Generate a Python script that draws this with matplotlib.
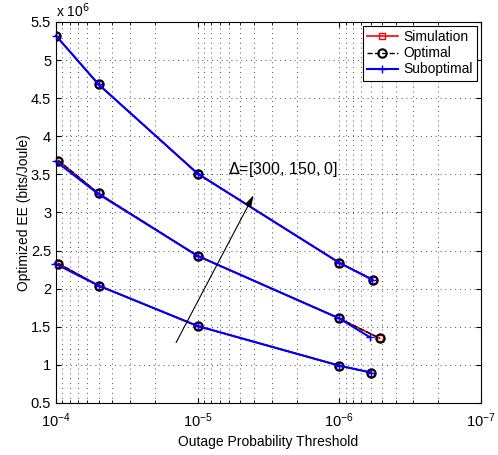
import matplotlib
matplotlib.use("Agg")
import matplotlib.pyplot as plt
import numpy as np

plt.rcParams['font.family'] = ['Liberation Sans', 'DejaVu Sans']

# outage probability thresholds (x) and optimized EE in 1e6 bits/Joule (y)
x_sim_top = [1.0e-4, 5e-5, 1e-5, 1e-6, 5.8e-7]
y_sim_top = [5.32, 4.68, 3.51, 2.34, 2.12]
x_sub_top = [1.0e-4, 5e-5, 1e-5, 1e-6, 5.9e-7]
y_sub_top = [5.32, 4.68, 3.51, 2.34, 2.12]

x_sim_mid = [0.96e-4, 5e-5, 1e-5, 1e-6, 5.2e-7]
y_sim_mid = [3.68, 3.25, 2.43, 1.61, 1.35]
x_sub_mid = [1.0e-4, 5e-5, 1e-5, 1e-6, 6.05e-7]
y_sub_mid = [3.67, 3.24, 2.43, 1.61, 1.36]

x_sim_bot = [0.96e-4, 5e-5, 1e-5, 1e-6, 6.0e-7]
y_sim_bot = [2.33, 2.04, 1.51, 0.99, 0.90]
x_sub_bot = [1.02e-4, 5e-5, 1e-5, 1e-6, 6.0e-7]
y_sub_bot = [2.33, 2.04, 1.51, 0.99, 0.90]

fig = plt.figure(figsize=(4.98, 4.55), dpi=100)
ax = fig.add_axes([0.1124, 0.1143, 0.8534, 0.8374])

sims = [(x_sim_top, y_sim_top), (x_sim_mid, y_sim_mid), (x_sim_bot, y_sim_bot)]
subs = [(x_sub_top, y_sub_top), (x_sub_mid, y_sub_mid), (x_sub_bot, y_sub_bot)]

for i, (xs, ys) in enumerate(sims):
    ax.plot(xs, ys, color='red', marker='s', mfc='none', ms=5, lw=1.2,
            label='Simulation' if i == 0 else None)
for i, (xs, ys) in enumerate(sims):
    ax.plot(xs, ys, color='black', ls='--', marker='o', mfc='none', ms=6, mew=1.5,
            lw=1.0, label='Optimal' if i == 0 else None)
for i, (xs, ys) in enumerate(subs):
    ax.plot(xs, ys, color='blue', marker='+', ms=6, lw=1.5, clip_on=False,
            label='Suboptimal' if i == 0 else None)

ax.set_xscale('log')
ax.set_xlim(1e-4, 1e-7)
ax.set_ylim(0.5, 5.5)
ax.set_yticks(np.arange(0.5, 5.51, 0.5))
ax.set_yticklabels(['0.5', '1', '1.5', '2', '2.5', '3', '3.5', '4', '4.5', '5', '5.5'])
ax.grid(True, which='major', ls=(0, (1, 4)), color='0.3', lw=0.7)
ax.grid(True, which='minor', axis='x', ls=(0, (1, 4)), color='0.3', lw=0.7)
ax.tick_params(which='both', direction='in', top=True, right=True, labelsize=10.5)
ax.tick_params(axis='x', pad=6)

ax.set_xlabel('Outage Probability Threshold', fontsize=10, labelpad=4)
ax.set_ylabel('Optimized EE (bits/Joule)', fontsize=10, labelpad=0)
ax.text(0.0, 1.005, r'x 10$^6$', transform=ax.transAxes, fontsize=10, va='bottom')

ax.annotate('', xy=(3.94e-6, 3.26), xytext=(1.45e-5, 1.26),
            arrowprops=dict(arrowstyle='-|>,head_length=0.7,head_width=0.2',
                            color='black', lw=0.8))
ax.text(6.1e-6, 3.56, r'$\Delta$=[300, 150, 0]', fontsize=11.5, va='center')

leg = ax.legend(loc='upper right', fontsize=10, fancybox=False, edgecolor='black',
                framealpha=1, handlelength=2.2, borderpad=0.3, labelspacing=0.15,
                borderaxespad=0.3, handletextpad=0.4)
leg.get_frame().set_linewidth(0.8)

fig.savefig('out.png', dpi=100)
